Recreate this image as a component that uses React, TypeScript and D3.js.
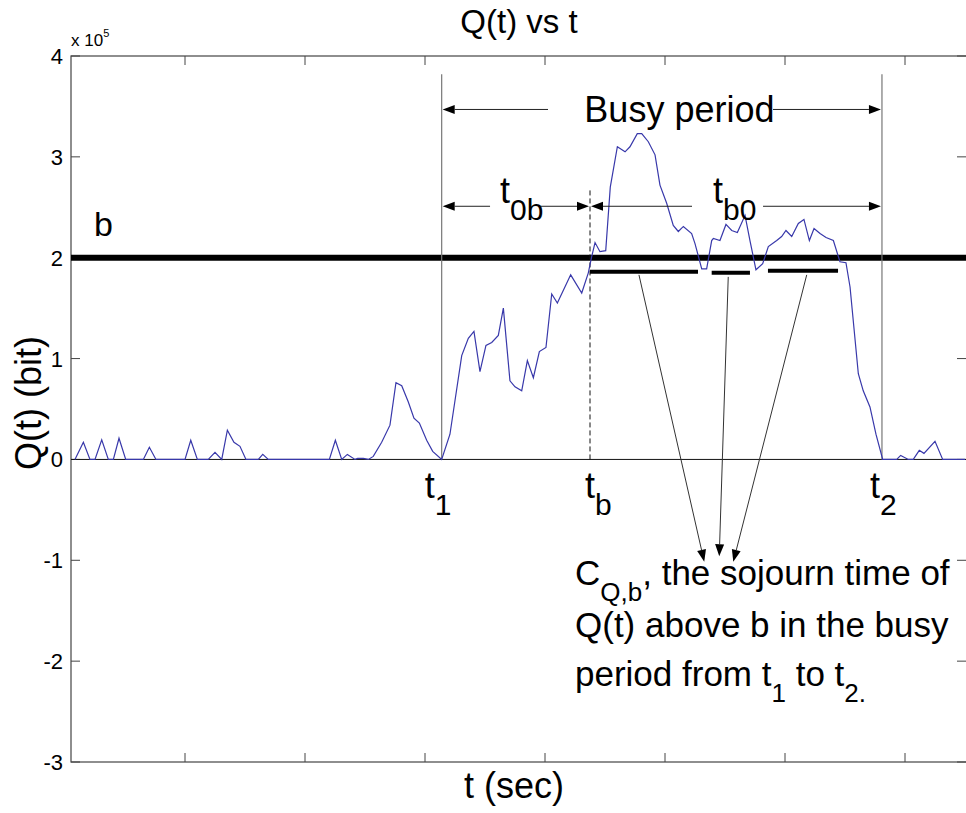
import React from "react";
import * as d3 from "d3";

// queue length samples, Q in units of 1e5 bit, t in sec
const seriesT = [
  0.83, 1.53, 2.08, 2.5, 3.06, 3.61, 4.03, 4.5, 5.06, 6.53, 7.03, 7.58, 10.0, 10.48, 11.03, 11.94,
  12.5, 13.06, 13.53, 14.08, 14.58, 15.08, 16.11, 16.48, 16.94, 22.03, 22.53, 23.06, 23.53, 24.17,
  24.39, 24.86, 25.28, 25.69, 26.39, 27.08, 27.58, 28.06, 28.61, 29.08, 29.53, 30.14, 30.64, 31.39,
  32.08, 33.06, 33.61, 34.08, 34.58, 35.08, 35.56, 36.11, 36.53, 37.08, 37.5, 38.06, 38.53, 39.03,
  39.53, 40.08, 40.56, 41.03, 42.14, 43.06, 43.61, 43.89, 44.17, 44.58, 45.06, 45.44, 46.03, 46.67,
  47.08, 47.69, 48.06, 48.61, 49.17, 49.58, 50.14, 50.69, 51.11, 51.53, 52.22, 52.5, 53.06, 53.47,
  53.89, 54.03, 54.58, 55.08, 55.56, 56.03, 56.67, 57.08, 57.58, 58.14, 58.61, 59.31, 59.72, 60.08,
  60.56, 61.11, 61.58, 62.03, 62.42, 62.92, 63.42, 64.03, 64.58, 65.08, 65.42, 66.11, 66.52, 67.08,
  67.58, 68.14, 69.31, 69.64, 70.28, 70.69, 71.19, 71.58, 72.5, 73.14, 75.0,
];
const seriesQ = [
  0, 0.17, 0, 0, 0.195, 0, 0, 0.21, 0, 0, 0.12, 0, 0, 0.19, 0, 0,
  0.07, 0, 0.29, 0.17, 0.13, 0, 0, 0.05, 0, 0, 0.19, 0, 0.05, 0,
  0.01, 0.01, 0, 0.03, 0.17, 0.34, 0.76, 0.73, 0.57, 0.41, 0.36, 0.19, 0.08, 0,
  0.25, 1.03, 1.2, 1.27, 0.87, 1.13, 1.16, 1.23, 1.5, 0.78, 0.72, 0.68, 0.98, 0.81,
  1.07, 1.11, 1.64, 1.55, 1.83, 1.65, 1.85, 2.01, 2.15, 2.06, 2.07, 2.7, 3.1, 3.05,
  3.1, 3.23, 3.23, 3.15, 3.02, 2.72, 2.54, 2.32, 2.26, 2.31, 2.24, 2.14, 1.89, 1.89,
  2.17, 2.19, 2.17, 2.33, 2.27, 2.25, 2.42, 2.17, 1.88, 1.94, 2.11, 2.17, 2.21, 2.27,
  2.21, 2.34, 2.38, 2.17, 2.29, 2.24, 2.2, 2.17, 1.96, 1.95, 1.71, 0.85, 0.68, 0.52,
  0.25, 0, 0, 0.04, 0, 0, 0.09, 0.06, 0.18, 0, 0,
];

const xTicks = [10, 20, 30, 40, 50, 60, 70];
const yTicks = [-3, -2, -1, 0, 1, 2, 3, 4];
const yTickLabels = ["-3", "-2", "-1", "0", "1", "2", "3", "4"];

const bLevel = 2;
const tOne = 31.39;
const tB = 43.75;
const tTwo = 68.08;
const markTop = 3.82;
const tbTop = 2.69;
const busyLevel = 3.47;
const subLevel = 2.51;

// sojourn segments above b: [start, end, drawn level]
const sojournStart = [43.75, 53.89, 58.58];
const sojournEnd = [52.75, 57.08, 64.42];
const sojournLevel = [1.86, 1.85, 1.87];

// pointer lines from segments to the caption
const pointerFromT = [47.83, 55.27, 61.81];
const pointerFromQ = [1.83, 1.81, 1.83];
const pointerToT = [53.27, 54.52, 55.69];
const pointerToQ = [-1.015, -0.96, -1.015];

const W = 966, H = 813;
const left = 71, right = 965, top = 56, bottom = 762;
const font = "'Liberation Sans', Arial, sans-serif";

function Arrow({ x1, y1, x2, y2, color = "#222" }) {
  const a = Math.atan2(y2 - y1, x2 - x1);
  const len = 12, half = 4.5;
  const bx = x2 - len * Math.cos(a), by = y2 - len * Math.sin(a);
  const p = [
    [x2, y2],
    [bx + half * Math.sin(a), by - half * Math.cos(a)],
    [bx - half * Math.sin(a), by + half * Math.cos(a)],
  ];
  return (
    <g>
      <line x1={x1} y1={y1} x2={bx} y2={by} stroke={color} strokeWidth={1} />
      <polygon points={p.map((d) => d.join(",")).join(" ")} fill="#000" />
    </g>
  );
}

export default function App() {
  const x = d3.scaleLinear().domain([0.5, 75]).range([left, right]);
  const y = d3.scaleLinear().domain([-3, 4]).range([bottom, top]);

  const pts = seriesT.map((t, i) => [t, seriesQ[i]]);
  const line = d3.line().x((d) => x(d[0])).y((d) => y(d[1]));

  return (
    <svg
      width={W}
      height={H}
      style={{ position: "absolute", left: 0, top: 0, background: "#fff" }}
      fontFamily={font}
    >
      <rect width={W} height={H} fill="#fff" />

      {/* title & labels */}
      <text x={519} y={33} textAnchor="middle" fontSize={33}>Q(t) vs t</text>
      <text x={514} y={798} textAnchor="middle" fontSize={36}>t (sec)</text>
      <text transform="translate(41,403) rotate(-90)" textAnchor="middle" fontSize={36}>Q(t) (bit)</text>
      <text x={left} y={46} fontSize={17}>
        x 10<tspan dy={-9} fontSize={11}>5</tspan>
      </text>

      {/* axes box */}
      <rect x={left} y={top} width={right - left + 4} height={bottom - top} fill="none" stroke="#444" strokeWidth={1.2} />
      {xTicks.map((t) => (
        <g key={"xt" + t}>
          <line x1={x(t)} x2={x(t)} y1={top} y2={top + 9} stroke="#444" />
          <line x1={x(t)} x2={x(t)} y1={bottom} y2={bottom - 9} stroke="#444" />
        </g>
      ))}
      {yTicks.map((v, i) => (
        <g key={"yt" + v}>
          <line x1={left} x2={left + 9} y1={y(v)} y2={y(v)} stroke="#444" />
          <line x1={W} x2={W - 9} y1={y(v)} y2={y(v)} stroke="#444" />
          <text x={63} y={y(v) + 8} textAnchor="end" fontSize={22}>{yTickLabels[i]}</text>
        </g>
      ))}

      {/* zero line */}
      <line x1={left} x2={W} y1={y(0)} y2={y(0)} stroke="#111" strokeWidth={1} />

      {/* threshold b */}
      <line x1={left} x2={W} y1={y(bLevel)} y2={y(bLevel)} stroke="#000" strokeWidth={6} />
      <text x={94} y={236} fontSize={34}>b</text>

      {/* markers t1, t2, tb */}
      <line x1={x(tOne)} x2={x(tOne)} y1={y(0)} y2={y(markTop)} stroke="#777" strokeWidth={1.2} />
      <line x1={x(tTwo)} x2={x(tTwo)} y1={y(0)} y2={y(markTop)} stroke="#777" strokeWidth={1.2} />
      <line x1={x(tB)} x2={x(tB)} y1={y(0)} y2={y(tbTop)} stroke="#111" strokeWidth={1} strokeDasharray="5,3" />

      {/* queue curve */}
      <path d={line(pts)} fill="none" stroke="#3838aa" strokeWidth={1.2} />

      {/* sojourn segments */}
      {sojournStart.map((s, i) => (
        <line key={"sj" + i} x1={x(s)} x2={x(sojournEnd[i])} y1={y(sojournLevel[i])} y2={y(sojournLevel[i])} stroke="#000" strokeWidth={4} />
      ))}

      {/* busy period arrows */}
      <Arrow x1={x(40.25)} y1={y(busyLevel)} x2={x(tOne) + 1} y2={y(busyLevel)} />
      <Arrow x1={x(59.0)} y1={y(busyLevel)} x2={x(tTwo) - 1} y2={y(busyLevel)} />
      <text x={x(51.2)} y={y(3.35)} textAnchor="middle" fontSize={36}>Busy period</text>

      {/* t0b */}
      <Arrow x1={x(35.42)} y1={y(subLevel)} x2={x(tOne) + 1} y2={y(subLevel)} />
      <Arrow x1={x(39.58)} y1={y(subLevel)} x2={x(tB) - 1} y2={y(subLevel)} />
      <text x={x(36.25)} y={203} fontSize={36}>t<tspan dy={17} fontSize={30}>0b</tspan></text>

      {/* tb0 */}
      <Arrow x1={x(52.25)} y1={y(subLevel)} x2={x(tB) + 1} y2={y(subLevel)} />
      <Arrow x1={x(58.17)} y1={y(subLevel)} x2={x(tTwo) - 1} y2={y(subLevel)} />
      <text x={x(54.0)} y={203} fontSize={36}>t<tspan dy={17} fontSize={30}>b0</tspan></text>

      {/* pointer arrows */}
      {pointerFromT.map((t, i) => (
        <Arrow key={"pa" + i} x1={x(t)} y1={y(pointerFromQ[i])} x2={x(pointerToT[i])} y2={y(pointerToQ[i])} color="#333" />
      ))}

      {/* time markers on axis */}
      <text x={x(tOne) - 17} y={498} fontSize={36}>t<tspan dy={17} fontSize={30}>1</tspan></text>
      <text x={x(tB) - 5} y={498} fontSize={36}>t<tspan dy={17} fontSize={30}>b</tspan></text>
      <text x={x(tTwo) - 12} y={498} fontSize={36}>t<tspan dy={17} fontSize={30}>2</tspan></text>

      {/* caption */}
      <text x={x(42.5)} y={585} fontSize={35}>
        C<tspan dy={16} fontSize={26}>Q,b</tspan><tspan dy={-16}>, the sojourn time of</tspan>
      </text>
      <text x={x(42.5)} y={637} fontSize={35}>Q(t) above b in the busy</text>
      <text x={x(42.5)} y={686} fontSize={35}>
        period from t<tspan dy={16} fontSize={26}>1</tspan><tspan dy={-16}> to t</tspan><tspan dy={16} fontSize={26}>2.</tspan>
      </text>
    </svg>
  );
}
